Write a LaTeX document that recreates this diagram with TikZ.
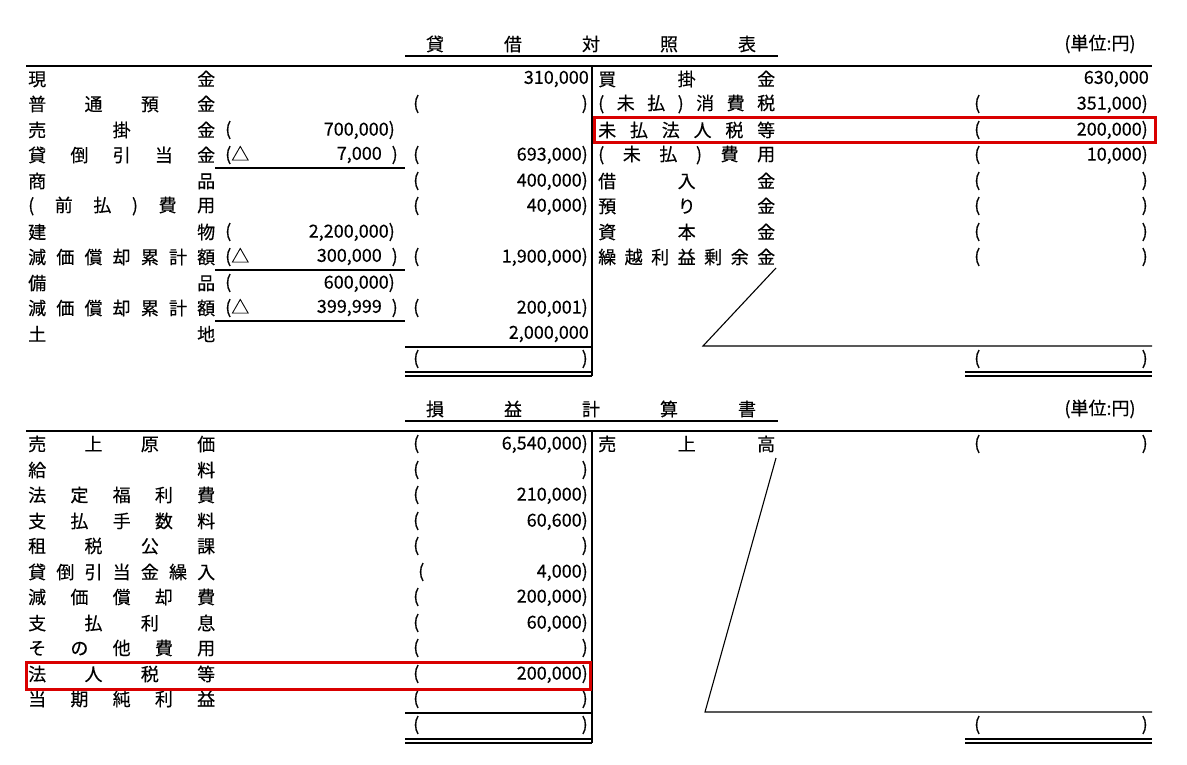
\documentclass[tikz,border=0pt]{standalone}
\usepackage{fontspec}
\setmainfont{Noto Sans CJK JP}[FakeBold=0.3]
\newcommand\Lb[3]{\node[lab] (#1) at (28,#2) {\makebox[187pt][s]{#3}};}
\newcommand\Tx[4]{\node[txt,anchor=#4] (#1) at (#2) {#3};}
\begin{document}
\begin{tikzpicture}[x=1pt,y=-1pt,
  txt/.style={inner sep=0pt,font=\fontsize{18}{18}\selectfont},
  lab/.style={txt,anchor=west},
  rule/.style={line width=1.4pt},
  thin/.style={line width=1.1pt},
  red/.style={draw=red!85!black,line width=3pt}]
\useasboundingbox (0,0) rectangle (1187,765);
% ---------- Balance sheet ----------
\node[txt] (t1) at (591,44) {\makebox[330pt][s]{貸\hfill 借\hfill 対\hfill 照\hfill 表}};
\draw[rule] (405,56) -- (778,56);
\Tx{u1}{1100,44}{(単位:円)}{center}
\draw[line width=1.8pt] (26,66) -- (1152,66);
\draw[rule] (592,66) -- (592,376);
\Lb{a1}{79}{現\hfill 金}
\Lb{a2}{104}{普\hfill 通\hfill 預\hfill 金}
\Lb{a3}{130}{売\hfill 掛\hfill 金}
\Lb{a4}{155}{貸\hfill 倒\hfill 引\hfill 当\hfill 金}
\Lb{a5}{181}{商\hfill 品}
\Lb{a6}{206}{(\hfill 前\hfill 払\hfill )\hfill 費\hfill 用}
\Lb{a7}{232}{建\hfill 物}
\Lb{a8}{257}{減\hfill 価\hfill 償\hfill 却\hfill 累\hfill 計\hfill 額}
\Lb{a9}{283}{備\hfill 品}
\Lb{a10}{308}{減\hfill 価\hfill 償\hfill 却\hfill 累\hfill 計\hfill 額}
\Lb{a11}{334}{土\hfill 地}
% inner column
\Tx{i3o}{225,130}{(}{west}\Tx{i3}{395,130}{700,000)}{east}
\Tx{i4o}{225,155}{(△}{west}\Tx{i4}{382,155}{7,000}{east}\Tx{i4c}{398,155}{)}{east}
\Tx{i7o}{225,232}{(}{west}\Tx{i7}{395,232}{2,200,000)}{east}
\Tx{i8o}{225,257}{(△}{west}\Tx{i8}{382,257}{300,000}{east}\Tx{i8c}{398,257}{)}{east}
\Tx{i9o}{225,283}{(}{west}\Tx{i9}{395,283}{600,000)}{east}
\Tx{i10o}{225,308}{(△}{west}\Tx{i10}{382,308}{399,999}{east}\Tx{i10c}{398,308}{)}{east}
\draw[thin] (215,168) -- (405,168);
\draw[thin] (215,270) -- (405,270);
\draw[thin] (215,321) -- (405,321);
% outer column
\Tx{o1}{589,79}{310,000}{east}
\Tx{o2o}{413,104}{(}{west}\Tx{o2}{588,104}{)}{east}
\Tx{o4o}{413,155}{(}{west}\Tx{o4}{588,155}{693,000)}{east}
\Tx{o5o}{413,181}{(}{west}\Tx{o5}{588,181}{400,000)}{east}
\Tx{o6o}{413,206}{(}{west}\Tx{o6}{588,206}{40,000)}{east}
\Tx{o8o}{413,257}{(}{west}\Tx{o8}{588,257}{1,900,000)}{east}
\Tx{o10o}{413,308}{(}{west}\Tx{o10}{588,308}{200,001)}{east}
\Tx{o11}{589,334}{2,000,000}{east}
\draw[thin] (405,347) -- (592,347);
\Tx{o12o}{413,359}{(}{west}\Tx{o12}{588,359}{)}{east}
\draw[thin] (405,372) -- (592,372);
\draw[thin] (405,376) -- (592,376);
% right side
\node[txt,anchor=west] (b1) at (598,79) {\makebox[177pt][s]{買\hfill 掛\hfill 金}};
\node[txt,anchor=west] (b2) at (598,104) {\makebox[177pt][s]{(\hfill 未\hfill 払\hfill )\hfill 消\hfill 費\hfill 税}};
\node[txt,anchor=west] (b3) at (598,130) {\makebox[177pt][s]{未\hfill 払\hfill 法\hfill 人\hfill 税\hfill 等}};
\node[txt,anchor=west] (b4) at (598,155) {\makebox[177pt][s]{(\hfill 未\hfill 払\hfill )\hfill 費\hfill 用}};
\node[txt,anchor=west] (b5) at (598,181) {\makebox[177pt][s]{借\hfill 入\hfill 金}};
\node[txt,anchor=west] (b6) at (598,206) {\makebox[177pt][s]{預\hfill り\hfill 金}};
\node[txt,anchor=west] (b7) at (598,232) {\makebox[177pt][s]{資\hfill 本\hfill 金}};
\node[txt,anchor=west] (b8) at (598,257) {\makebox[177pt][s]{繰\hfill 越\hfill 利\hfill 益\hfill 剰\hfill 余\hfill 金}};
\Tx{r1}{1149,79}{630,000}{east}
\Tx{r2o}{974,104}{(}{west}\Tx{r2}{1148,104}{351,000)}{east}
\Tx{r3o}{974,130}{(}{west}\Tx{r3}{1148,130}{200,000)}{east}
\Tx{r4o}{974,155}{(}{west}\Tx{r4}{1148,155}{10,000)}{east}
\Tx{r5o}{974,181}{(}{west}\Tx{r5}{1148,181}{)}{east}
\Tx{r6o}{974,206}{(}{west}\Tx{r6}{1148,206}{)}{east}
\Tx{r7o}{974,232}{(}{west}\Tx{r7}{1148,232}{)}{east}
\Tx{r8o}{974,257}{(}{west}\Tx{r8}{1148,257}{)}{east}
\coordinate (d1a) at (776,268); \coordinate (d1b) at (703,346); \coordinate (d1c) at (1152,346);
\draw[thin] (d1a) -- (d1b) -- (d1c);
\Tx{r9o}{974,359}{(}{west}\Tx{r9}{1148,359}{)}{east}
\draw[thin] (965,372) -- (1152,372);
\draw[thin] (965,376) -- (1152,376);
\draw[red] (594,118) rectangle (1155,143);
% ---------- Income statement ----------
\node[txt] (t2) at (591,409) {\makebox[330pt][s]{損\hfill 益\hfill 計\hfill 算\hfill 書}};
\draw[rule] (405,421) -- (778,421);
\Tx{u2}{1100,409}{(単位:円)}{center}
\draw[line width=1.8pt] (26,431) -- (1152,431);
\draw[rule] (592,431) -- (592,743);
\Lb{c1}{444}{売\hfill 上\hfill 原\hfill 価}
\Lb{c2}{470}{給\hfill 料}
\Lb{c3}{495}{法\hfill 定\hfill 福\hfill 利\hfill 費}
\Lb{c4}{521}{支\hfill 払\hfill 手\hfill 数\hfill 料}
\Lb{c5}{546}{租\hfill 税\hfill 公\hfill 課}
\Lb{c6}{572}{貸\hfill 倒\hfill 引\hfill 当\hfill 金\hfill 繰\hfill 入}
\Lb{c7}{597}{減\hfill 価\hfill 償\hfill 却\hfill 費}
\Lb{c8}{623}{支\hfill 払\hfill 利\hfill 息}
\Lb{c9}{648}{そ\hfill の\hfill 他\hfill 費\hfill 用}
\Lb{c10}{674}{法\hfill 人\hfill 税\hfill 等}
\Lb{c11}{699}{当\hfill 期\hfill 純\hfill 利\hfill 益}
\Tx{p1o}{413,444}{(}{west}\Tx{p1}{588,444}{6,540,000)}{east}
\Tx{p2o}{413,470}{(}{west}\Tx{p2}{588,470}{)}{east}
\Tx{p3o}{413,495}{(}{west}\Tx{p3}{588,495}{210,000)}{east}
\Tx{p4o}{413,521}{(}{west}\Tx{p4}{588,521}{60,600)}{east}
\Tx{p5o}{413,546}{(}{west}\Tx{p5}{588,546}{)}{east}
\Tx{p6o}{418,572}{(}{west}\Tx{p6}{588,572}{4,000)}{east}
\Tx{p7o}{413,597}{(}{west}\Tx{p7}{588,597}{200,000)}{east}
\Tx{p8o}{413,623}{(}{west}\Tx{p8}{588,623}{60,000)}{east}
\Tx{p9o}{413,648}{(}{west}\Tx{p9}{588,648}{)}{east}
\Tx{p10o}{413,674}{(}{west}\Tx{p10}{588,674}{200,000)}{east}
\Tx{p11o}{413,699}{(}{west}\Tx{p11}{588,699}{)}{east}
\draw[thin] (405,713) -- (592,713);
\Tx{p12o}{413,725}{(}{west}\Tx{p12}{588,725}{)}{east}
\draw[thin] (405,739) -- (592,739);
\draw[thin] (405,743) -- (592,743);
\node[txt,anchor=west] (s1) at (598,444) {\makebox[177pt][s]{売\hfill 上\hfill 高}};
\Tx{s1o}{974,444}{(}{west}\Tx{s1v}{1148,444}{)}{east}
\coordinate (d2a) at (776,458); \coordinate (d2b) at (705,712); \coordinate (d2c) at (1152,712);
\draw[thin] (d2a) -- (d2b) -- (d2c);
\Tx{s2o}{974,725}{(}{west}\Tx{s2}{1148,725}{)}{east}
\draw[thin] (965,739) -- (1152,739);
\draw[thin] (965,743) -- (1152,743);
\draw[red] (26,662) rectangle (590,689);
\end{tikzpicture}
\end{document}
